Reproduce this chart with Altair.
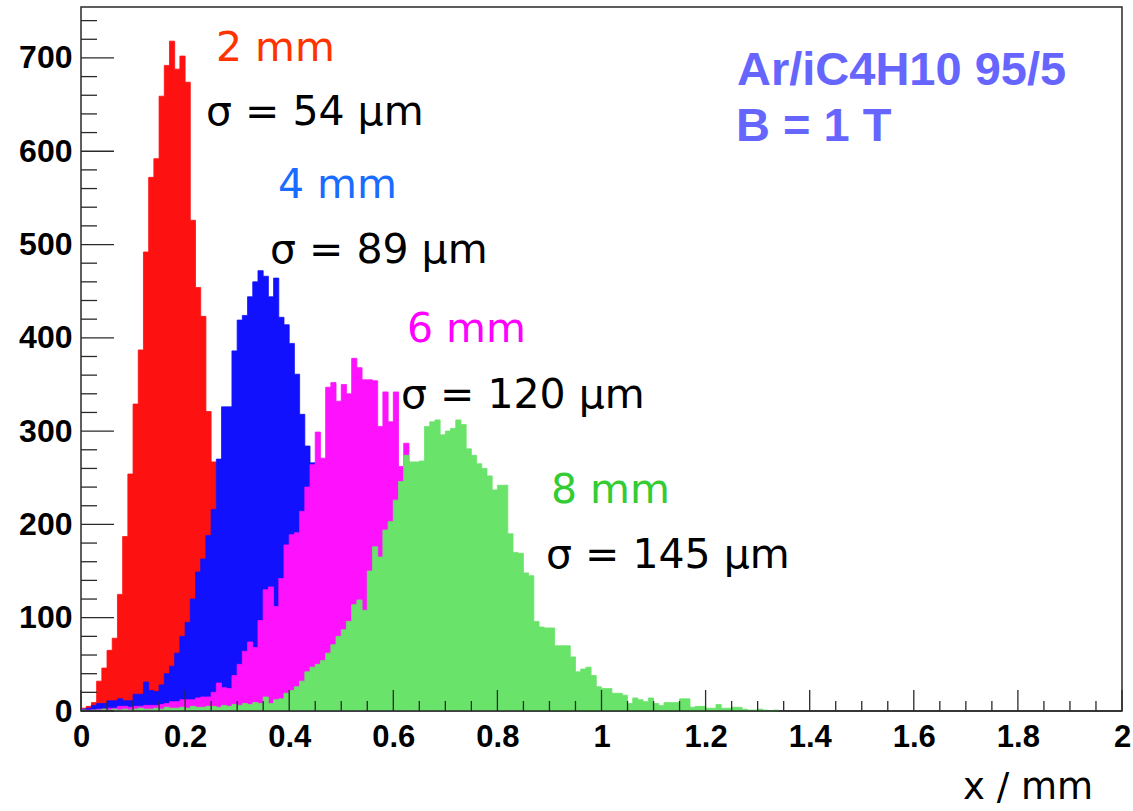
import altair as alt
import pandas as pd

# ---------------- data (counts per 0.01 mm bin, starting at x = 0) ----------------
BIN = 0.01
red_counts = [3, 5, 9, 32, 46, 65, 78, 125, 187, 254,
              329, 387, 492, 572, 592, 659, 692, 718, 688, 702,
              674, 526, 454, 423, 321, 267, 215, 165, 125, 92,
              65, 45, 30, 20, 13, 8, 5, 3, 2, 1]
blue_counts = [2, 3, 6, 8, 8, 11, 11, 13, 11, 11,
               18, 18, 31, 22, 21, 28, 40, 48, 62, 80,
               95, 120, 149, 163, 188, 216, 270, 326, 326, 386,
               419, 424, 444, 460, 472, 466, 444, 464, 422, 414,
               394, 361, 318, 284, 266, 230, 195, 160, 130, 100,
               80, 60, 45, 33, 24, 17, 12, 8, 5, 3, 2, 1]
magenta_counts = [0, 1, 1, 2, 2, 3, 3, 5, 5, 4,
                  5, 5, 6, 6, 6, 7, 8, 10, 10, 12,
                  12, 12, 14, 15, 15, 20, 30, 25, 24, 38,
                  50, 64, 74, 68, 97, 130, 133, 112, 142, 178,
                  189, 191, 214, 240, 264, 299, 271, 347, 352, 332,
                  350, 340, 378, 368, 355, 355, 354, 305, 342, 310,
                  342, 262, 287, 240, 205, 175, 145, 118, 92, 72,
                  55, 42, 32, 24, 18, 13, 9, 7, 5, 4,
                  3, 2, 2, 1, 1]
green_counts = [1, 0, 1, 1, 2, 1, 2, 1, 2, 1,
                2, 3, 2, 2, 3, 2, 4, 3, 3, 4,
                3, 5, 4, 4, 5, 5, 4, 6, 5, 7,
                6, 8, 7, 9, 8, 15, 8, 12, 13, 19,
                22, 26, 32, 42, 47, 50, 54, 62, 71, 80,
                87, 96, 114, 119, 108, 150, 176, 165, 194, 203,
                226, 246, 274, 267, 267, 268, 305, 310, 312, 296,
                300, 303, 312, 307, 281, 274, 265, 260, 252, 237,
                242, 242, 190, 170, 169, 148, 145, 96, 90, 89,
                89, 70, 70, 70, 58, 42, 45, 47, 38, 26,
                24, 24, 19, 19, 17, 8, 14, 12, 10, 14,
                8, 6, 9, 9, 9, 13, 13, 4, 5, 5,
                3, 3, 7, 3, 3, 4, 4, 2, 1, 1,
                2, 1, 0, 1]

series_names = ["2 mm", "4 mm", "6 mm", "8 mm"]
series_counts = [red_counts, blue_counts, magenta_counts, green_counts]
series_fill = ["#fe1111", "#1111fe", "#fe12fe", "#69e369"]
label_colors = ["#ff3300", "#1a6bff", "#ff00ff", "#33cc33"]
sigma_texts = ["σ = 54 μm", "σ = 89 μm", "σ = 120 μm", "σ = 145 μm"]
gas_lines = ["Ar/iC4H10 95/5", "B = 1 T"]
x_title = "x / mm"

x_major = [0, 0.2, 0.4, 0.6, 0.8, 1.0, 1.2, 1.4, 1.6, 1.8, 2.0]
x_minor = [round(0.05 * i, 2) for i in range(41) if i % 4 != 0]
y_major = [0, 100, 200, 300, 400, 500, 600, 700]
y_minor = [v for v in range(20, 760, 20) if v % 100 != 0]

# ---------------- layout ----------------
W, H = 1041, 704
xscale = alt.Scale(domain=[0, 2], nice=False, zero=False)
yscale = alt.Scale(domain=[0, 754.6], nice=False, zero=False)
LBL = dict(labelFont="Liberation Sans", labelFontWeight="bold",
           labelColor="black", labelFlush=False, labelOverlap=False, labelBound=False,
           ticks=False, domain=False, grid=False, title=None)
x_axis = alt.Axis(values=x_major, format="~g", labelPadding=11, labelFontSize=31, **LBL)
y_axis = alt.Axis(values=y_major, format="d", labelPadding=9, labelFontSize=32, **LBL)


def hist_frame(name, counts):
    xs = [round(i * BIN, 4) for i in range(len(counts) + 1)]
    return pd.DataFrame({"x": xs, "count": list(counts) + [0], "series": name})


layers = []
for name, counts, col in zip(series_names, series_counts, series_fill):
    df = hist_frame(name, counts)
    layers.append(
        alt.Chart(df).mark_area(interpolate="step-after", color=col, opacity=1,
                                stroke=col, strokeWidth=0.8)
        .encode(x=alt.X("x:Q", scale=xscale, axis=x_axis),
                y=alt.Y("count:Q", scale=yscale, axis=y_axis))
    )

TICK = dict(color="#2a2a2a", strokeWidth=1.3)
for vals, length in [(y_major, 33), (y_minor, 16)]:
    layers.append(
        alt.Chart(pd.DataFrame({"v": vals})).mark_rule(**TICK).encode(
            y=alt.Y("v:Q", scale=yscale, axis=y_axis),
            x=alt.value(0), x2=alt.value(length))
    )
for vals, length in [(x_major, 21), (x_minor, 10)]:
    layers.append(
        alt.Chart(pd.DataFrame({"v": vals})).mark_rule(**TICK).encode(
            x=alt.X("v:Q", scale=xscale, axis=x_axis),
            y=alt.value(H), y2=alt.value(H - length))
    )

# bottom frame edge on top of the fills
layers.append(alt.Chart(pd.DataFrame({"v": [0]})).mark_rule(color="#2a2a2a", strokeWidth=1.5)
              .encode(x=alt.value(0), x2=alt.value(W), y=alt.value(H)))


def text_layer(txt, px, py, color, font, size, weight="normal"):
    return alt.Chart(pd.DataFrame({"t": [txt]})).mark_text(
        align="left", baseline="alphabetic", color=color, font=font,
        fontSize=size, fontWeight=weight
    ).encode(text="t:N", x=alt.value(px), y=alt.value(py))


name_pos = [(135, 54), (197, 191), (326, 335), (470, 496)]
sigma_pos = [(125, 118), (189, 256), (320, 401), (465, 561)]
for k in range(4):
    layers.append(text_layer(series_names[k], *name_pos[k], label_colors[k], "DejaVu Sans", 41))
    layers.append(text_layer(sigma_texts[k], *sigma_pos[k], "black", "DejaVu Sans", 41))

layers.append(text_layer(gas_lines[0], 656, 78, "#6666ff", "Liberation Sans", 47, "bold"))
layers.append(text_layer(gas_lines[1], 655, 134, "#6666ff", "Liberation Sans", 47, "bold"))
layers.append(text_layer(x_title, 882, 792, "black", "DejaVu Sans", 37))

chart = alt.layer(*layers).properties(
    width=W, height=H,
    autosize=alt.AutoSizeParams(type="none"),
    padding={"left": 81, "top": 7, "right": 11, "bottom": 100},
    background="white",
).configure_view(stroke="#2a2a2a", strokeWidth=1.5)

chart.save("out.html", embed_options={"renderer": "svg", "actions": False})
